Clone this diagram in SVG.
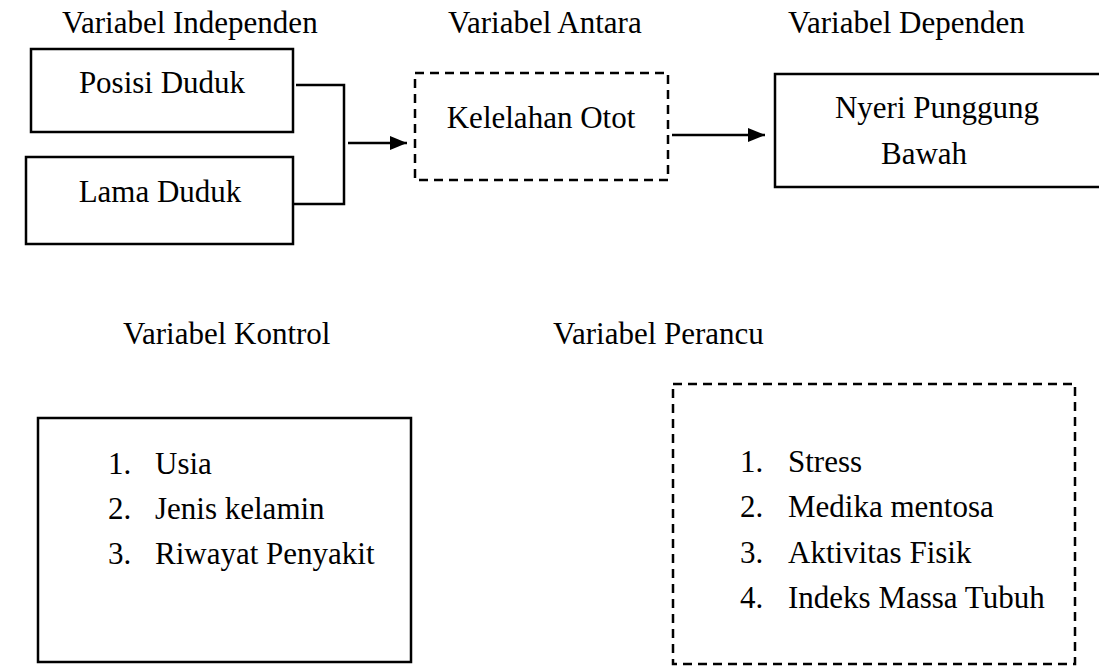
<svg xmlns="http://www.w3.org/2000/svg" width="1099" height="666" viewBox="0 0 1099 666">
<defs>
<style>
text{font-family:"Liberation Serif","Times New Roman",serif;font-size:31px;fill:#000}
.box{fill:none;stroke:#000;stroke-width:2.5}
.dash{fill:none;stroke:#000;stroke-width:2.5;stroke-dasharray:9 6}
.ln{fill:none;stroke:#000;stroke-width:2.5}
.c{text-anchor:middle}
</style>
<marker id="ah" markerWidth="18" markerHeight="14" refX="17" refY="7" orient="auto" markerUnits="userSpaceOnUse">
<path d="M0,0 L17,7 L0,14 Z" fill="#000"/>
</marker>
</defs>
<rect width="1099" height="666" fill="#fff"/>
<g id="labels">
<text x="62" y="33">Variabel Independen</text>
<text x="448" y="33">Variabel Antara</text>
<text x="788" y="33">Variabel Dependen</text>
<text x="123" y="344">Variabel Kontrol</text>
<text x="553" y="344">Variabel Perancu</text>
</g>
<g id="posisi">
<rect class="box" x="31" y="49" width="262" height="83"/>
<text class="c" x="162" y="93">Posisi Duduk</text>
</g>
<g id="lama">
<rect class="box" x="26" y="157" width="267" height="87"/>
<text class="c" x="160" y="202">Lama Duduk</text>
</g>
<g id="kelelahan">
<rect class="dash" x="415" y="73" width="253" height="107"/>
<text class="c" x="541" y="128">Kelelahan Otot</text>
</g>
<g id="nyeri">
<path class="box" d="M1110,74 H775 V187 H1110"/>
<text class="c" x="937" y="118">Nyeri Punggung</text>
<text class="c" x="924" y="164">Bawah</text>
</g>
<g id="kontrol">
<rect class="box" x="38" y="418" width="373" height="244"/>
<text x="108" y="474">1.</text><text x="155" y="474">Usia</text>
<text x="108" y="519">2.</text><text x="155" y="519">Jenis kelamin</text>
<text x="108" y="564">3.</text><text x="155" y="564">Riwayat Penyakit</text>
</g>
<g id="perancu">
<rect class="dash" x="673" y="384" width="402" height="280"/>
<text x="740" y="472">1.</text><text x="788" y="472">Stress</text>
<text x="740" y="517">2.</text><text x="788" y="517">Medika mentosa</text>
<text x="740" y="563">3.</text><text x="788" y="563">Aktivitas Fisik</text>
<text x="740" y="608">4.</text><text x="788" y="608">Indeks Massa Tubuh</text>
</g>
<g id="connectors">
<path class="ln" d="M296,85 H344 V204 H293"/>
<line class="ln" x1="348" y1="143" x2="407" y2="143" marker-end="url(#ah)"/>
<line class="ln" x1="672" y1="135" x2="765" y2="135" marker-end="url(#ah)"/>
</g>
</svg>
